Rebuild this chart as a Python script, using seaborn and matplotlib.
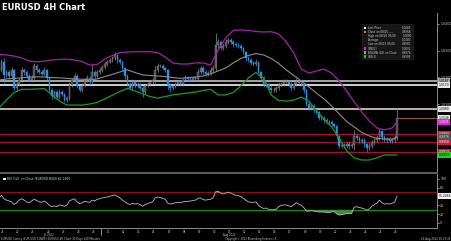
import numpy as np
import pandas as pd
import matplotlib
matplotlib.use("Agg")
import matplotlib.pyplot as plt
from matplotlib.patches import Rectangle
import seaborn as sns

# ---------------- data ----------------
first_open = 1.0240
closes = [
    1.0228, 1.0258, 1.0209, 1.0220, 1.0205, 1.0228,
    1.0160, 1.0175, 1.0190, 1.0228, 1.0220, 1.0205,
    1.0190, 1.0198, 1.0243, 1.0228, 1.0220, 1.0213,
    1.0228, 1.0198, 1.0153, 1.0130, 1.0145, 1.0126,
    1.0145, 1.0138, 1.0115, 1.0123, 1.0171, 1.0190,
    1.0205, 1.0168, 1.0153, 1.0168, 1.0190, 1.0198,
    1.0183, 1.0220, 1.0205, 1.0220, 1.0228, 1.0239,
    1.0250, 1.0258, 1.0265, 1.0273, 1.0284, 1.0265,
    1.0258, 1.0235, 1.0205, 1.0175, 1.0160, 1.0183,
    1.0168, 1.0175, 1.0160, 1.0145, 1.0168, 1.0175,
    1.0183, 1.0190, 1.0228, 1.0243, 1.0243, 1.0235,
    1.0228, 1.0171, 1.0160, 1.0168, 1.0175, 1.0183,
    1.0175, 1.0190, 1.0198, 1.0194, 1.0190, 1.0198,
    1.0194, 1.0220, 1.0235, 1.0220, 1.0213, 1.0216,
    1.0228, 1.0235, 1.0321, 1.0333, 1.0310, 1.0318,
    1.0333, 1.0340, 1.0333, 1.0325, 1.0321, 1.0318,
    1.0310, 1.0295, 1.0273, 1.0265, 1.0254, 1.0250,
    1.0258, 1.0220, 1.0198, 1.0171, 1.0175, 1.0160,
    1.0153, 1.0153, 1.0160, 1.0171, 1.0175, 1.0183,
    1.0183, 1.0175, 1.0160, 1.0175, 1.0183, 1.0179,
    1.0175, 1.0153, 1.0100, 1.0085, 1.0093, 1.0078,
    1.0070, 1.0048, 1.0048, 1.0040, 1.0033, 1.0033,
    1.0025, 1.0018, 0.9980, 0.9943, 0.9946, 0.9943,
    0.9950, 0.9943, 0.9946, 0.9980, 0.9973, 0.9961,
    0.9965, 0.9950, 0.9935, 0.9943, 0.9954, 0.9965,
    0.9973, 0.9999, 0.9976, 0.9965, 0.9969, 0.9961,
    0.9965, 0.9973, 1.0048,
]
upper_wick_pips = [
    8, 10, 15, 6, 8, 9,   5, 8, 7, 10, 6, 8,   6, 9, 10, 7, 6, 8,
    10, 5, 4, 8, 9, 6,    10, 6, 5, 8, 10, 9,  12, 6, 5, 9, 8, 10,
    8, 34, 7, 9, 8, 7,    8, 6, 9, 7, 11, 5,   6, 5, 4, 6, 7, 10,
    6, 9, 5, 6, 8, 7,     9, 8, 15, 10, 7, 6,  5, 4, 8, 7, 9, 8,
    6, 8, 9, 7, 6, 8,     7, 12, 9, 6, 7, 8,   9, 10, 47, 12, 8, 10,
    12, 8, 7, 6, 9, 7,    6, 5, 4, 8, 6, 7,    9, 5, 4, 8, 6, 5,
    7, 9, 8, 10, 7, 9,    12, 8, 6, 10, 14, 8, 9, 5, 4, 10, 8, 6,
    7, 5, 9, 6, 8, 7,     6, 5, 4, 5, 8, 6,    9, 7, 8, 23, 9, 7,
    8, 6, 5, 9, 10, 8,    9, 11, 5, 7, 8, 6,   8, 10, 37,
]
lower_wick_pips = [
    9, 7, 30, 8, 10, 7,   7, 9, 6, 8, 10, 7,   8, 6, 9, 10, 7, 8,
    6, 9, 7, 10, 8, 9,    7, 9, 8, 6, 9, 7,    8, 9, 7, 8, 6, 9,
    15, 8, 10, 7, 6, 8,   7, 9, 6, 8, 7, 10,   8, 9, 10, 7, 9, 6,
    8, 7, 9, 19, 8, 6,    7, 9, 10, 8, 6, 9,   7, 18, 15, 9, 8, 7,
    9, 6, 8, 9, 7, 8,     9, 7, 8, 10, 7, 9,   8, 7, 12, 10, 9, 8,
    7, 9, 8, 10, 7, 9,    8, 9, 10, 7, 9, 8,   6, 10, 8, 9, 7, 9,
    10, 8, 7, 9, 6, 8,    9, 7, 10, 8, 7, 9,   8, 10, 7, 9, 8, 10,
    9, 8, 7, 10, 8, 9,    8, 9, 10, 8, 7, 9,   8, 10, 9, 18, 8, 9,
    7, 10, 15, 8, 9, 7,   8, 9, 10, 8, 7, 9,   8, 7, 8,
]
rsi14 = [
    56, 63, 55, 52, 50, 48,  42, 46, 52, 55, 52, 48,  46, 50, 54, 51, 48, 47,
    50, 46, 40, 37, 39, 37,  41, 40, 38, 41, 50, 53,  55, 48, 44, 46, 49, 48,
    47, 52, 50, 54, 55, 57,  58, 59, 61, 62, 64, 60,  57, 52, 48, 44, 42, 45,
    43, 44, 42, 38, 42, 44,  46, 48, 57, 59, 58, 56,  54, 45, 43, 44, 46, 47,
    46, 48, 49, 49, 50, 51,  52, 56, 57, 53, 52, 53,  54, 57, 71, 72, 68, 66,
    68, 70, 68, 65, 63, 62,  60, 56, 52, 48, 47, 47,  48, 40, 36, 33, 34, 31,
    30, 30, 31, 37, 40, 41,  41, 39, 37, 42, 46, 43,  40, 35, 27, 27, 28, 27,
    26, 25, 25, 25, 24, 24,  25, 26, 21, 18, 19, 20,  22, 21, 22, 36, 37, 35,
    34, 32, 29, 32, 38, 42,  45, 52, 46, 43, 44, 43,  45, 47, 61.2466,
]
band_bars = list(range(0, 157, 3)) + [158]
ubb = [
    1.0286, 1.0284, 1.0280, 1.0273, 1.0261, 1.0258, 1.0261, 1.0265, 1.0267, 1.0268,
    1.0265, 1.0259, 1.0246, 1.0248, 1.0269, 1.0282, 1.0292, 1.0295, 1.0296, 1.0296,
    1.0296, 1.0293, 1.0276, 1.0254, 1.0250, 1.0250, 1.0254, 1.0254, 1.0246, 1.0303,
    1.0348, 1.0376, 1.0378, 1.0376, 1.0372, 1.0370, 1.0371, 1.0363, 1.0333, 1.0291,
    1.0231, 1.0216, 1.0224, 1.0231, 1.0216, 1.0186, 1.0149, 1.0108, 1.0070, 1.0036,
    1.0010, 1.0003, 1.0010, 1.0033,
]
bolma = [
    1.0190, 1.0194, 1.0196, 1.0198, 1.0201, 1.0202, 1.0201, 1.0199, 1.0198, 1.0196,
    1.0194, 1.0193, 1.0190, 1.0194, 1.0203, 1.0211, 1.0220, 1.0228, 1.0218, 1.0209,
    1.0207, 1.0205, 1.0203, 1.0199, 1.0196, 1.0199, 1.0201, 1.0205, 1.0213, 1.0224,
    1.0235, 1.0254, 1.0271, 1.0282, 1.0289, 1.0284, 1.0271, 1.0252, 1.0228, 1.0207,
    1.0186, 1.0164, 1.0141, 1.0119, 1.0093, 1.0063, 1.0034, 1.0014, 0.9993, 0.9980,
    0.9971, 0.9969, 0.9968, 0.9976,
]
lbb = [
    1.0085, 1.0115, 1.0143, 1.0155, 1.0155, 1.0156, 1.0158, 1.0134, 1.0111, 1.0096,
    1.0096, 1.0096, 1.0100, 1.0106, 1.0119, 1.0133, 1.0147, 1.0159, 1.0149, 1.0138,
    1.0128, 1.0122, 1.0128, 1.0134, 1.0138, 1.0141, 1.0145, 1.0151, 1.0155, 1.0134,
    1.0134, 1.0143, 1.0168, 1.0198, 1.0218, 1.0198, 1.0134, 1.0113, 1.0111, 1.0115,
    1.0126, 1.0111, 1.0074, 1.0044, 1.0014, 0.9973, 0.9924, 0.9898, 0.9890, 0.9890,
    0.9898, 0.9909, 0.9909, 0.9909,
]
day_labels = ["21", "22", "25", "26", "27", "28", "29", "01", "02", "03", "04", "05",
              "08", "09", "10", "11", "12", "15", "16", "17", "18", "19", "22", "23",
              "24", "25", "26"]
month_labels = ["Jul 2022", "Aug 2022"]
level_values = [1.0187, 1.0170, 1.0080, 0.9989, 0.9958, 0.9919]
last_price = 1.0048
price_ticks = [1.04, 1.03, 1.02, 1.01]
box_values = [1.0187, 1.0170, 1.0080, 1.0048, 1.0031, 0.9989, 0.9976, 0.9958, 0.9919, 0.9909]
legend_names = ["Last Price", "Close on 08/25 ----", "High on 08/26 06:00", "Average",
                "Low on 08/23 06:00", "UBB(2)", "BOLMA (20) on Close", "LBB(2)"]
legend_values = ["1.0049", "0.9966", "1.0090", "1.0183", "0.9901", "1.0031", "0.9976", "0.9909"]
rsi_ticks = [0, 20, 40, 80, 100]

# ---------------- styling ----------------
sns.set_theme(style="dark", rc={"axes.facecolor": "black", "figure.facecolor": "black",
                                "axes.grid": False})
plt.rcParams["font.family"] = ["DejaVu Sans"]

W, H = 451, 241
def fx(x): return x / W
def fy(y): return 1 - y / H

fig = plt.figure(figsize=(W / 100, H / 100), dpi=100, facecolor="black")
ax = fig.add_axes([0, fy(173), fx(437), (173 - 13) / H])
ax2 = fig.add_axes([0, fy(228), fx(437), (228 - 173) / H])
for a in (ax, ax2):
    a.set_facecolor("black")
    for s in a.spines.values():
        s.set_visible(False)
    a.spines["right"].set_visible(True)
    a.spines["right"].set_color("#8a8a8a")
    a.spines["right"].set_linewidth(0.7)

XL = (0.43, 173.84)

# ---------------- candles ----------------
c = np.array(closes)
o = np.concatenate([[first_open], c[:-1]])
hi = np.maximum(o, c) + np.array(upper_wick_pips) / 10000
lo = np.minimum(o, c) - np.array(lower_wick_pips) / 10000
bars = np.arange(len(c))
down = c < o
wick_col = np.where(down, "#2f8fe8", "#8a8a8a")
ax.vlines(bars, lo, hi, colors=wick_col, linewidth=0.5, zorder=3)
body_h = np.maximum(np.abs(c - o), 0.00012)
ax.bar(bars, body_h, bottom=np.minimum(o, c), width=0.62,
       color=np.where(down, "#2f8fe8", "#4a4a4a"),
       edgecolor=np.where(down, "#2f8fe8", "#8a8a8a"), linewidth=0.3, zorder=4)

# ---------------- bollinger bands ----------------
bb = pd.DataFrame({"bar": band_bars, "ubb": ubb, "mid": bolma, "lbb": lbb})
sns.lineplot(data=bb, x="bar", y="ubb", ax=ax, color="#a024a8", linewidth=0.9, zorder=5)
sns.lineplot(data=bb, x="bar", y="mid", ax=ax, color="#8c8c8c", linewidth=0.8, zorder=5)
sns.lineplot(data=bb, x="bar", y="lbb", ax=ax, color="#1f9a1f", linewidth=0.9, zorder=5)

# ---------------- horizontal levels ----------------
level_cols = ["#b0b0b0", "#e0e0e0", "#cfc2aa", "#a3122e", "#a3122e", "#a3122e"]
level_lw = [1.3, 1.3, 1.3, 1.0, 1.0, 1.0]
for v, col, lw in zip(level_values, level_cols, level_lw):
    ax.axhline(v, color=col, linewidth=lw, zorder=2)
ax.hlines(last_price, bars[-1], XL[1], color="#8b5a2b", linewidth=0.8, zorder=2)

ax.set_xlim(*XL)
ax.set_ylim(0.984125, 1.044125)
ax.set_xticks([])
ax.yaxis.tick_right()
ax.set_yticks(price_ticks)
ax.set_yticklabels([f"{t:.4f}" for t in price_ticks])
ax.tick_params(axis="y", colors="#c8c8c8", labelsize=2.3, length=1.5, width=0.5, pad=0.8)
ax.set_xlabel(""); ax.set_ylabel("")

# right value boxes
box_fc = ["#a8a8a8", "#e8e8e8", "#e8e8e8", "#f0f0f0", "#e020e0", "#c0203c",
          "#505050", "#c0203c", "#c0203c", "#20d020"]
box_tc = ["black", "black", "black", "black", "white", "white", "#e0e0e0", "white", "white", "black"]
for v, fc, tc in zip(box_values, box_fc, box_tc):
    ax.text(1.004, v, f"{v:.4f}", transform=ax.get_yaxis_transform(), fontsize=2.2,
            color=tc, va="center", ha="left", clip_on=False, zorder=10,
            bbox=dict(boxstyle="square,pad=0.35", fc=fc, ec="none"))

# legend box
fig.patches.append(Rectangle((fx(362), fy(59)), fx(413) - fx(362), (59 - 24) / H,
                             transform=fig.transFigure, facecolor="#161616",
                             edgecolor="#2a2a2a", linewidth=0.4, zorder=20))
sq_cols = ["#ffffff", "#e07820", None, None, None, "#e020e0", "#a0a0a0", "#20d020"]
for i, (nm, val, sc) in enumerate(zip(legend_names, legend_values, sq_cols)):
    yy = 28 + i * 4.1
    if sc is not None:
        fig.patches.append(Rectangle((fx(363.5), fy(yy + 1.3)), 2.6 / W, 2.6 / H,
                                     transform=fig.transFigure, facecolor=sc,
                                     edgecolor="none", zorder=21))
    fig.text(fx(368), fy(yy), nm, fontsize=2.0, color="#d0d0d0", va="center", ha="left", zorder=22)
    fig.text(fx(411.5), fy(yy), val, fontsize=2.0, color="#d0d0d0", va="center", ha="right", zorder=22)

# ---------------- RSI panel ----------------
r = np.array(rsi14, dtype=float)
rd = pd.DataFrame({"bar": bars, "rsi": r})
ax2.axhline(70, color="#8b1010", linewidth=0.8, zorder=1)
ax2.axhline(30, color="#148c14", linewidth=0.8, zorder=1)
ax2.fill_between(bars, r, 30, where=r < 30, interpolate=True, color="#3a8f3a", linewidth=0, zorder=2)
ax2.fill_between(bars, r, 70, where=r > 70, interpolate=True, color="#d2691e", linewidth=0, zorder=2)
sns.lineplot(data=rd, x="bar", y="rsi", ax=ax2, color="#bdbdbd", linewidth=0.6, zorder=3)
ax2.set_xlim(*XL)
ax2.set_ylim(-11.36, 113.6)
ax2.set_xlabel(""); ax2.set_ylabel("")
ax2.spines["top"].set_visible(True)
ax2.spines["top"].set_color("#5c5c5c")
ax2.spines["top"].set_linewidth(1.4)
ax2.spines["bottom"].set_visible(True)
ax2.spines["bottom"].set_color("#8a8a8a")
ax2.spines["bottom"].set_linewidth(0.7)
ax2.yaxis.tick_right()
ax2.set_yticks(rsi_ticks)
ax2.set_yticklabels([str(t) for t in rsi_ticks])
ax2.tick_params(axis="y", colors="#c8c8c8", labelsize=2.3, length=1.5, width=0.5, pad=0.8)
day_pos = [1.5 + 6 * d for d in range(len(day_labels))]
ax2.set_xticks(day_pos)
ax2.set_xticklabels(day_labels)
ax2.tick_params(axis="x", colors="#c8c8c8", labelsize=2.0, length=1.0, width=0.4, pad=0.5)
ax2.text(1.004, r[-1], f"{r[-1]:.4f}", transform=ax2.get_yaxis_transform(), fontsize=2.2,
         color="black", va="center", ha="left", clip_on=False, zorder=10,
         bbox=dict(boxstyle="square,pad=0.35", fc="#f0f0f0", ec="none"))
# month separator and labels
ax2.plot([40.5, 40.5], [0, -0.13], transform=ax2.get_xaxis_transform(), color="#c8c8c8",
         linewidth=0.5, clip_on=False)
ax2.text(day_pos[3], -0.13, month_labels[0], transform=ax2.get_xaxis_transform(),
         fontsize=1.9, color="#c8c8c8", ha="center", va="center")
ax2.text(day_pos[15], -0.13, month_labels[1], transform=ax2.get_xaxis_transform(),
         fontsize=1.9, color="#c8c8c8", ha="center", va="center")

# RSI legend
fig.patches.append(Rectangle((fx(3), fy(180.3)), 2.6 / W, 2.6 / H, transform=fig.transFigure,
                             facecolor="white", edgecolor="none", zorder=21))
fig.text(fx(7), fy(179), f"RSI (14)  on Close (EURUSD BGN) {r[-1]:.4f}", fontsize=2.2,
         color="#d8d8d8", va="center", ha="left")

# ---------------- title & footer ----------------
fig.text(fx(1.5), fy(8), "EURUSD 4H Chart", fontsize=6, fontweight="bold", color="white",
         va="center", ha="left")
fig.text(fx(1), fy(239.3), "EURUSD Curncy (EUR-USD X-RATE) EURUSD 4H Chart 30 Days 240 Minutes",
         fontsize=1.9, color="#c8c8c8", va="center", ha="left")
fig.text(fx(251), fy(239.3), "Copyright\u00a9 2022 Bloomberg Finance L.P.", fontsize=1.8,
         color="#c8c8c8", va="center", ha="center")
fig.text(fx(450), fy(239.3), "26-Aug-2022 10:23:35", fontsize=1.9, color="#c8c8c8",
         va="center", ha="right")

fig.savefig("out.png", dpi=100, facecolor="black")
